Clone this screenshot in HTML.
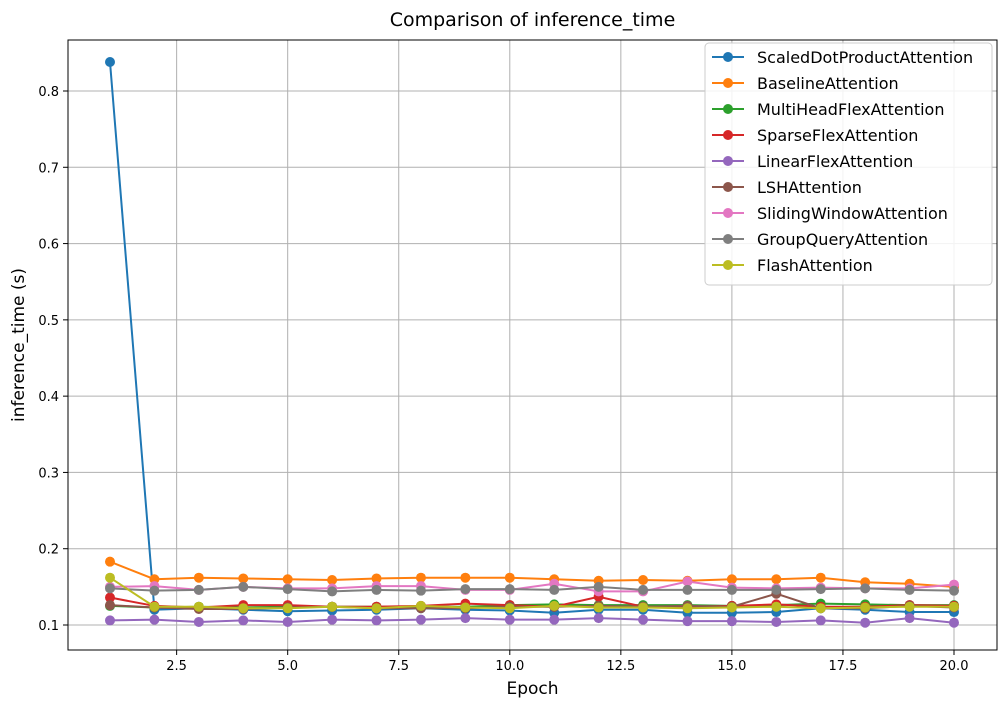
<!DOCTYPE html>
<html><head><meta charset="utf-8"><style>
body{margin:0;background:#fff;font-family:"Liberation Sans","DejaVu Sans",sans-serif;}
svg text{font-family:"DejaVu Sans","Liberation Sans",sans-serif;}
</style></head><body>
<svg id="c" width="1007" height="708"></svg>
<script>
const epochs=[1,2,3,4,5,6,7,8,9,10,11,12,13,14,15,16,17,18,19,20];
const seriesNames=["ScaledDotProductAttention","BaselineAttention","MultiHeadFlexAttention","SparseFlexAttention","LinearFlexAttention","LSHAttention","SlidingWindowAttention","GroupQueryAttention","FlashAttention"];
const colors=["#1f77b4","#ff7f0e","#2ca02c","#d62728","#9467bd","#8c564b","#e377c2","#7f7f7f","#bcbd22"];
const sdpa=[.838,.120,.122,.120,.118,.119,.120,.122,.120,.119,.116,.120,.120,.116,.116,.117,.122,.120,.117,.117];
const baseline=[.183,.160,.162,.161,.160,.159,.161,.162,.162,.162,.160,.158,.159,.158,.160,.160,.162,.156,.154,.150];
const multihead=[.125,.123,.124,.123,.124,.124,.124,.124,.124,.126,.127,.126,.126,.126,.125,.126,.128,.127,.126,.126];
const sparse=[.136,.125,.123,.126,.126,.124,.124,.125,.128,.126,.124,.137,.124,.124,.125,.127,.124,.124,.126,.125];
const linear=[.106,.107,.104,.106,.104,.107,.106,.107,.109,.107,.107,.109,.107,.105,.105,.104,.106,.103,.109,.103];
const lsh=[.126,.123,.121,.121,.123,.124,.122,.122,.122,.124,.124,.125,.124,.125,.124,.141,.122,.122,.125,.123];
const sliding=[.150,.151,.146,.150,.148,.148,.151,.151,.146,.146,.154,.144,.144,.157,.149,.148,.149,.148,.148,.153];
const groupq=[.148,.145,.146,.150,.147,.144,.146,.145,.147,.147,.146,.150,.146,.146,.146,.146,.147,.148,.146,.145];
const flash=[.162,.124,.124,.122,.122,.124,.122,.125,.123,.122,.125,.123,.123,.122,.123,.124,.122,.123,.124,.124];
const allSeries=[sdpa,baseline,multihead,sparse,linear,lsh,sliding,groupq,flash];
const xTicks=[2.5,5.0,7.5,10.0,12.5,15.0,17.5,20.0];
const yTicks=[0.1,0.2,0.3,0.4,0.5,0.6,0.7,0.8];
const L=68,R=997,T=40,B=650;
const X=v=>110+(v-1)*(954-110)/19;
const Y=v=>625-(v-0.1)*(625-91)/0.7;
const svg=document.getElementById('c');const NS="http://www.w3.org/2000/svg";
function mk(t,a,p){const e=document.createElementNS(NS,t);for(const k in a)e.setAttribute(k,a[k]);(p||svg).appendChild(e);return e;}
const grid=mk('g',{});


xTicks.forEach(t=>{mk('line',{x1:X(t),x2:X(t),y1:T,y2:B,stroke:"#b0b0b0","stroke-width":1},grid);
 mk('line',{x1:X(t),x2:X(t),y1:B,y2:B+5,stroke:"#000"});
 const tx=mk('text',{x:X(t),y:B+20,"text-anchor":"middle","font-size":13});tx.textContent=t.toFixed(1);
 
 });
yTicks.forEach(t=>{mk('line',{x1:L,x2:R,y1:Y(t),y2:Y(t),stroke:"#b0b0b0","stroke-width":1},grid);
 mk('line',{x1:L-5,x2:L,y1:Y(t),y2:Y(t),stroke:"#000"});
 const tx=mk('text',{x:L-9,y:Y(t)+5,"text-anchor":"end","font-size":13});tx.textContent=t.toFixed(1);
 
 });
allSeries.forEach((s,i)=>{const g=mk('g',{});
 
 
 mk('polyline',{points:s.map((v,j)=>X(epochs[j])+","+Y(v)).join(" "),fill:"none",stroke:colors[i],"stroke-width":2},g);
 s.forEach((v,j)=>{const c=mk('circle',{cx:X(epochs[j]),cy:Y(v),r:5,fill:colors[i]},g);
  
  });});
const frame=mk('rect',{x:L,y:T,width:R-L,height:B-T,fill:"none",stroke:"#000","stroke-width":1});


const title=mk('text',{x:(L+R)/2,y:26,"text-anchor":"middle","font-size":19});title.textContent="Comparison of inference_time";


const xl=mk('text',{x:(L+R)/2,y:694,"text-anchor":"middle","font-size":17});xl.textContent="Epoch";


const yl=mk('text',{x:0,y:0,transform:"translate(24,345) rotate(-90)","text-anchor":"middle","font-size":17});yl.textContent="inference_time (s)";


const lg=mk('g',{});


mk('rect',{x:705,y:43,width:287,height:242,rx:4,fill:"#fff","fill-opacity":0.85,stroke:"#ccc"},lg);
seriesNames.forEach((n,i)=>{const y=57+i*26;const e=mk('g',{},lg);
 
 
 mk('line',{x1:712,x2:744,y1:y,y2:y,stroke:colors[i],"stroke-width":2},e);
 mk('circle',{cx:728,cy:y,r:5,fill:colors[i]},e);
 const t=mk('text',{x:757,y:y+6,"font-size":16},e);t.textContent=n;});
</script>
</body></html>
